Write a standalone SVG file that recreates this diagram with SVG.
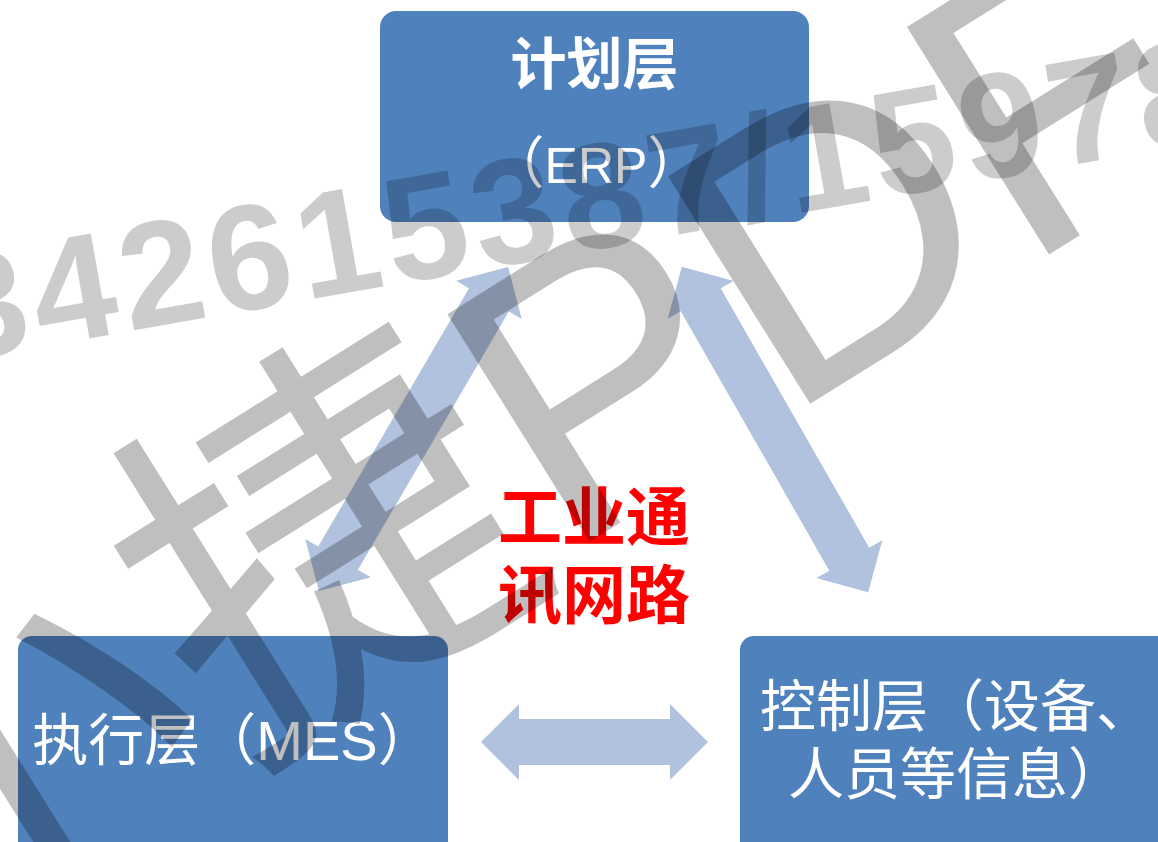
<svg xmlns="http://www.w3.org/2000/svg" width="1158" height="842" viewBox="0 0 1158 842">
<style>
.box{fill:#4F81BD}
.t{font-family:"Liberation Sans","Noto Sans CJK SC",sans-serif;fill:#fff;font-size:56px;text-anchor:middle}
.red{font-family:"Noto Sans CJK SC",sans-serif;fill:#f00;font-size:64px;font-weight:bold;text-anchor:middle}
.conn{fill:#B0C2DE}
.wm{font-family:"Liberation Sans","Noto Sans CJK SC",sans-serif;fill:#000}
</style>
<rect width="1158" height="842" fill="#fff"/>
<g id="connectors">
<polygon class="conn" transform="translate(594.5,742)" points="-113.5,0 -75.5,-38 -75.5,-23 75.5,-23 75.5,-38 113.5,0 75.5,38 75.5,23 -75.5,23 -75.5,38"/>
<polygon class="conn" transform="translate(413.5,429) rotate(-59.7)" points="-187.5,0 -149.5,-38 -149.5,-23 149.5,-23 149.5,-38 187.5,0 149.5,38 149.5,23 -149.5,23 -149.5,38"/>
<polygon class="conn" transform="translate(775,429.5) rotate(60.2)" points="-187.5,0 -149.5,-38 -149.5,-23 149.5,-23 149.5,-38 187.5,0 149.5,38 149.5,23 -149.5,23 -149.5,38"/>
</g>
<g id="node-plan">
<rect class="box" x="380" y="11" width="429" height="211" rx="16"/>
<text class="t" x="594.5" y="84" font-weight="bold">计划层</text>
<text class="t" x="596" y="183">（<tspan font-size="50">ERP</tspan>）</text>
</g>
<g id="node-exec">
<rect class="box" x="18" y="636" width="430" height="240" rx="14"/>
<text class="t" x="233" y="760">执行层（MES）</text>
</g>
<g id="node-control">
<rect class="box" x="740" y="636" width="432" height="240" rx="14"/>
<text class="t" x="956" y="726">控制层（设备、</text>
<text class="t" x="956" y="794">人员等信息）</text>
</g>
<g id="label-network">
<text class="red" x="594" y="540">工业通</text>
<text class="red" x="594" y="618">讯网路</text>
</g>
<g id="watermark">
<text class="wm" fill-opacity="0.2" font-size="150" font-weight="bold" letter-spacing="6" transform="translate(12,352) rotate(-10)" x="-60" y="0">342615387/15978</text>
<text class="wm" fill-opacity="0.25" font-size="390" transform="translate(-99,972) rotate(-32)" x="0" y="0">小捷PDF</text>
</g>
</svg>
